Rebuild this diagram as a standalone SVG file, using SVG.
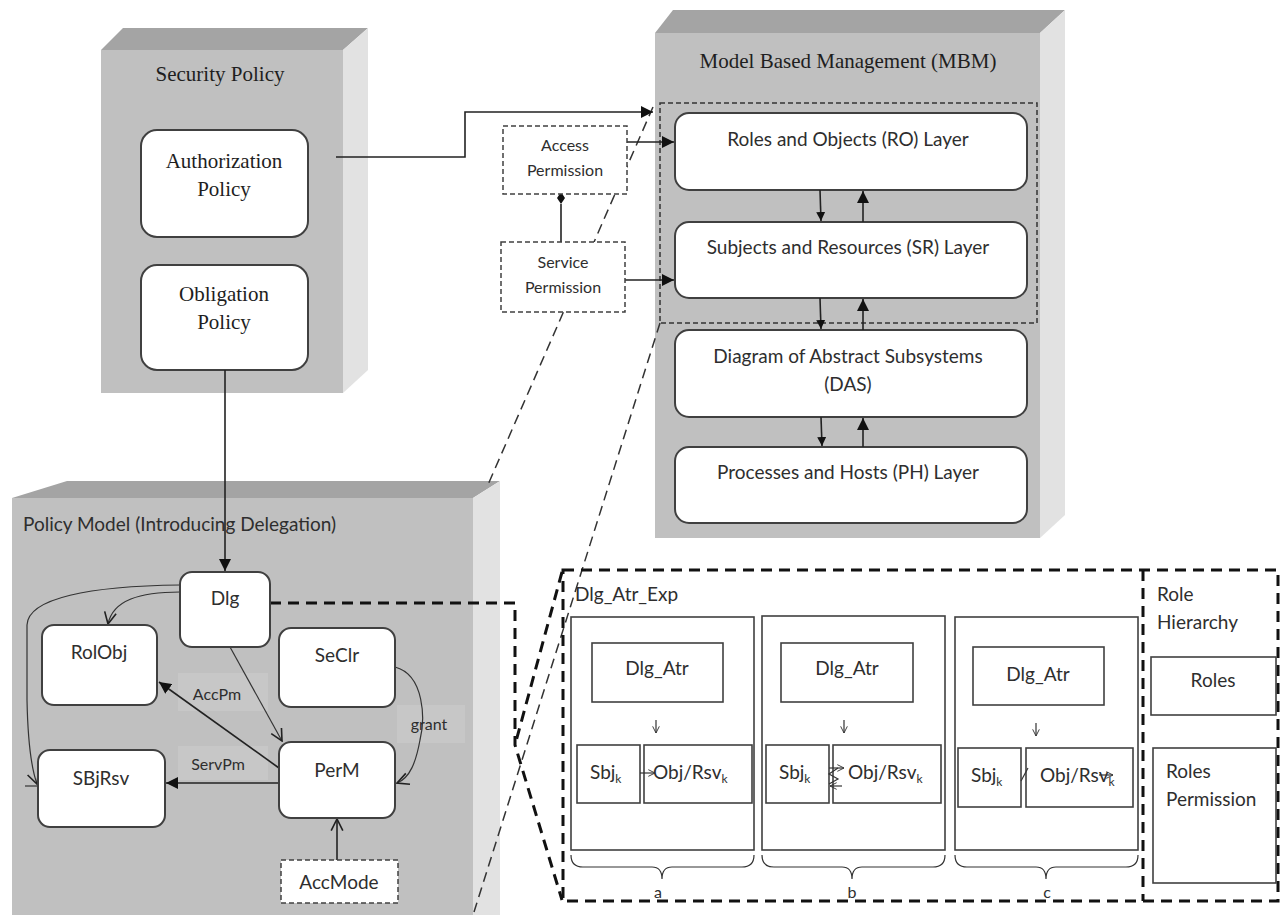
<svg xmlns="http://www.w3.org/2000/svg" width="1282" height="915" viewBox="0 0 1282 915">
  <style>
    .front { fill: #c0c0c0; }
    .top { fill: #a4a4a4; }
    .side { fill: #e2e2e2; }
    .node { fill: #ffffff; stroke: #404040; stroke-width: 2; }
    .dnode { fill: #ffffff; stroke: #404040; stroke-width: 1.5; stroke-dasharray: 5 3; }
    .box { fill: #ffffff; stroke: #404040; stroke-width: 1.6; }
    .line { fill: none; stroke: #222222; stroke-width: 1.6; }
    .thin { fill: none; stroke: #333333; stroke-width: 1.2; }
    .dash-thin { fill: none; stroke: #333333; stroke-width: 1.5; stroke-dasharray: 10 6; }
    .dash-small { fill: none; stroke: #333333; stroke-width: 1.5; stroke-dasharray: 5 3; }
    .dash-thick { fill: none; stroke: #111111; stroke-width: 3; stroke-dasharray: 11 7; }
    .serif { font-family: 'Liberation Serif', serif; font-size: 21px; fill: #1e1e1e; }
    .sans { font-family: Lato, 'Liberation Sans', sans-serif; font-size: 19px; fill: #2e2e2e; }
    .small { font-family: Lato, 'Liberation Sans', sans-serif; font-size: 16px; fill: #2e2e2e; }
    .lbl { fill: #c7c7c7; }
  </style>
  <defs>
    <marker id="arrow" viewBox="0 0 10 10" refX="10" refY="5" markerWidth="9" markerHeight="9" markerUnits="userSpaceOnUse" orient="auto">
      <path d="M0,0 L10,5 L0,10 z" fill="#111111"/>
    </marker>
    <marker id="arrowL" viewBox="0 0 10 10" refX="10" refY="5" markerWidth="12" markerHeight="12" markerUnits="userSpaceOnUse" orient="auto">
      <path d="M0,0 L10,5 L0,10 z" fill="#111111"/>
    </marker>
    <marker id="vee" viewBox="0 0 12 12" refX="11" refY="6" markerWidth="14" markerHeight="14" markerUnits="userSpaceOnUse" orient="auto">
      <path d="M1,1 L11,6 L1,11" fill="none" stroke="#222222" stroke-width="1.4"/>
    </marker>
    <marker id="veeS" viewBox="0 0 12 12" refX="11" refY="6" markerWidth="8" markerHeight="8" markerUnits="userSpaceOnUse" orient="auto">
      <path d="M1,1 L11,6 L1,11" fill="none" stroke="#333333" stroke-width="1.4"/>
    </marker>
    <marker id="diamond" viewBox="0 0 12 8" refX="0" refY="4" markerWidth="12" markerHeight="8" markerUnits="userSpaceOnUse" orient="auto">
      <path d="M0,4 L6,0 L12,4 L6,8 z" fill="#111111"/>
    </marker>
  </defs>

  <!-- Security Policy block -->
  <g id="security-policy">
    <polygon class="top" points="101,50 123,28 368,28 343,50"/>
    <polygon class="side" points="343,50 368,28 368,370 343,393"/>
    <rect class="front" x="101" y="50" width="242" height="343"/>
    <text class="serif" x="220" y="81" text-anchor="middle">Security Policy</text>
  </g>
  <g id="authorization-policy">
    <rect class="node" x="141" y="130" width="167" height="107" rx="16"/>
    <text class="serif" x="224" y="168" text-anchor="middle">Authorization</text>
    <text class="serif" x="224" y="196" text-anchor="middle">Policy</text>
  </g>
  <g id="obligation-policy">
    <rect class="node" x="141" y="265" width="167" height="105" rx="16"/>
    <text class="serif" x="224" y="301" text-anchor="middle">Obligation</text>
    <text class="serif" x="224" y="329" text-anchor="middle">Policy</text>
  </g>

  <!-- Model Based Management block -->
  <g id="mbm">
    <polygon class="top" points="655,33 673,10 1065,10 1040,33"/>
    <polygon class="side" points="1040,33 1065,10 1065,515 1040,538"/>
    <rect class="front" x="655" y="33" width="385" height="505"/>
    <text class="serif" x="848" y="68" text-anchor="middle" font-size="22">Model Based Management (MBM)</text>
    <rect class="dash-small" x="660" y="103" width="377" height="220"/>
  </g>
  <g id="ro-layer">
    <rect class="node" x="675" y="113" width="352" height="77" rx="14"/>
    <text class="sans" x="848" y="146" text-anchor="middle">Roles and Objects (RO) Layer</text>
  </g>
  <g id="sr-layer">
    <rect class="node" x="675" y="222" width="352" height="76" rx="14"/>
    <text class="sans" x="848" y="254" text-anchor="middle">Subjects and Resources (SR) Layer</text>
  </g>
  <g id="das">
    <rect class="node" x="675" y="330" width="352" height="87" rx="14"/>
    <text class="sans" x="848" y="363" text-anchor="middle">Diagram of Abstract Subsystems</text>
    <text class="sans" x="848" y="391" text-anchor="middle">(DAS)</text>
  </g>
  <g id="ph-layer">
    <rect class="node" x="675" y="447" width="352" height="76" rx="14"/>
    <text class="sans" x="848" y="479" text-anchor="middle">Processes and Hosts (PH) Layer</text>
  </g>

  <!-- Policy Model block -->
  <g id="policy-model">
    <polygon class="top" points="12,498 67,481 500,481 473,498"/>
    <polygon class="side" points="473,498 500,481 500,915 473,915"/>
    <rect class="front" x="12" y="498" width="461" height="417"/>
    <text class="sans" x="23" y="531" font-size="20">Policy Model (Introducing Delegation)</text>
    <rect class="lbl" x="178" y="673" width="90" height="38"/>
    <rect class="lbl" x="178" y="746" width="90" height="34"/>
    <rect class="lbl" x="397" y="705" width="68" height="38"/>
  </g>

  <!-- Connectors -->
  <g id="connectors">
    <!-- zoom callout lines -->
    <line class="dash-thin" x1="653" y1="107" x2="487" y2="487"/>
    <line class="dash-thin" x1="660" y1="323" x2="474" y2="912"/>
    <path class="dash-thick" d="M270,603 H515 V745 L562,900"/>
    <line class="dash-thick" x1="562" y1="572" x2="515" y2="745"/>

    <!-- Security Policy to MBM -->
    <path class="line" d="M336,157 H465 V112 H653" marker-end="url(#arrowL)"/>
    <line class="line" x1="225" y1="370" x2="225" y2="571" marker-end="url(#arrowL)"/>

    <!-- permissions to layers -->
    <line class="line" x1="627" y1="142" x2="674" y2="142" marker-end="url(#arrowL)"/>
    <line class="line" x1="625" y1="280" x2="674" y2="280" marker-end="url(#arrowL)"/>
    <line class="line" x1="561" y1="242" x2="561" y2="204" marker-end="url(#diamond)"/>

    <!-- layer to layer -->
    <line class="line" x1="820" y1="190" x2="821" y2="221" marker-end="url(#arrow)"/>
    <line class="line" x1="863" y1="222" x2="863" y2="191" marker-end="url(#arrowL)"/>
    <line class="line" x1="820" y1="298" x2="821" y2="329" marker-end="url(#arrow)"/>
    <line class="line" x1="863" y1="330" x2="863" y2="299" marker-end="url(#arrowL)"/>
    <line class="line" x1="821" y1="417" x2="822" y2="446" marker-end="url(#arrow)"/>
    <line class="line" x1="863" y1="447" x2="863" y2="418" marker-end="url(#arrowL)"/>

    <!-- policy model relations -->
    <path class="thin" d="M180,592 C140,592 113,600 108,624" marker-end="url(#vee)"/>
    <path class="thin" d="M180,585 C90,586 28,598 27,625 L27,700 C28,750 32,770 37,784" marker-end="url(#vee)"/>
    <line class="thin" x1="25" y1="786" x2="38" y2="786"/>
    <line class="thin" x1="230" y1="647" x2="282" y2="741" marker-end="url(#vee)"/>
    <line class="line" x1="279" y1="768" x2="159" y2="682" marker-end="url(#arrowL)"/>
    <line class="line" x1="279" y1="783" x2="166" y2="783" marker-end="url(#arrowL)"/>
    <path class="thin" d="M395,667 C425,675 425,720 420,740 C416,762 410,778 397,783" marker-end="url(#vee)"/>
    <line class="line" x1="337" y1="860" x2="337" y2="819" marker-end="url(#vee)"/>

    <!-- expansion frames -->
    <path class="dash-thick" d="M563,570 H1278 V901 H563 Z"/>
    <line class="dash-thick" x1="1143" y1="570" x2="1143" y2="901"/>
  </g>

  <!-- Permission boxes -->
  <g id="access-permission">
    <rect class="dnode" x="503" y="126" width="124" height="68"/>
    <text class="small" x="565" y="151" text-anchor="middle">Access</text>
    <text class="small" x="565" y="176" text-anchor="middle">Permission</text>
  </g>
  <g id="service-permission">
    <rect class="dnode" x="501" y="242" width="124" height="70"/>
    <text class="small" x="563" y="268" text-anchor="middle">Service</text>
    <text class="small" x="563" y="293" text-anchor="middle">Permission</text>
  </g>

  <!-- Policy model nodes -->
  <g id="dlg">
    <rect class="node" x="180" y="572" width="90" height="75" rx="12"/>
    <text class="sans" x="225" y="605" text-anchor="middle">Dlg</text>
  </g>
  <g id="rolobj">
    <rect class="node" x="42" y="625" width="115" height="80" rx="12"/>
    <text class="sans" x="99" y="659" text-anchor="middle">RolObj</text>
  </g>
  <g id="sbjrsv">
    <rect class="node" x="38" y="750" width="127" height="77" rx="12"/>
    <text class="sans" x="101" y="785" text-anchor="middle">SBjRsv</text>
  </g>
  <g id="seclr">
    <rect class="node" x="279" y="628" width="116" height="79" rx="12"/>
    <text class="sans" x="337" y="662" text-anchor="middle">SeClr</text>
  </g>
  <g id="perm">
    <rect class="node" x="279" y="742" width="116" height="76" rx="12"/>
    <text class="sans" x="337" y="777" text-anchor="middle">PerM</text>
  </g>
  <g id="accmode">
    <rect class="dnode" x="281" y="860" width="117" height="43"/>
    <text class="sans" x="339" y="889" text-anchor="middle">AccMode</text>
  </g>
  <g id="edge-labels">
    <text class="small" x="217" y="700" text-anchor="middle">AccPm</text>
    <text class="small" x="218" y="770" text-anchor="middle">ServPm</text>
    <text class="small" x="429" y="730" text-anchor="middle">grant</text>
  </g>

  <!-- Delegation attribute expansion -->
  <g id="dlg-atr-exp">
    <text class="sans" x="575" y="601">Dlg_Atr_Exp</text>
  </g>
  <g id="panel-a">
    <rect class="box" x="571" y="617" width="183" height="233"/>
    <rect class="box" x="592" y="643" width="131" height="59"/>
    <text class="sans" x="657" y="675" text-anchor="middle">Dlg_Atr</text>
    <line class="thin" x1="656" y1="720" x2="656" y2="733" marker-end="url(#veeS)"/>
    <rect class="box" x="577" y="745" width="63" height="58"/>
    <rect class="box" x="644" y="745" width="108" height="58"/>
    <text class="sans" x="590" y="779">Sbj<tspan font-size="12" dy="4">k</tspan></text>
    <text class="sans" x="653" y="779">Obj/Rsv<tspan font-size="12" dy="4">k</tspan></text>
    <line class="thin" x1="640" y1="773" x2="655" y2="773" marker-end="url(#veeS)"/>
    <path class="thin" d="M571,855 Q571,867 583,867 H652 Q662,867 662,879 Q662,867 672,867 H742 Q754,867 754,855"/>
    <text class="small" x="658" y="898" text-anchor="middle">a</text>
  </g>
  <g id="panel-b">
    <rect class="box" x="762" y="616" width="183" height="234"/>
    <rect class="box" x="781" y="643" width="132" height="59"/>
    <text class="sans" x="847" y="675" text-anchor="middle">Dlg_Atr</text>
    <line class="thin" x1="844" y1="720" x2="844" y2="733" marker-end="url(#veeS)"/>
    <rect class="box" x="766" y="745" width="63" height="58"/>
    <rect class="box" x="833" y="745" width="108" height="58"/>
    <text class="sans" x="779" y="779">Sbj<tspan font-size="12" dy="4">k</tspan></text>
    <text class="sans" x="848" y="779">Obj/Rsv<tspan font-size="12" dy="4">k</tspan></text>
    <path class="thin" d="M829,768 H844" marker-end="url(#veeS)"/>
    <path class="thin" d="M838,768 L829,774 L838,779 L829,784"/>
    <path class="thin" d="M842,786 H830" marker-end="url(#veeS)"/>
    <path class="thin" d="M762,855 Q762,867 774,867 H842 Q852,867 852,879 Q852,867 862,867 H933 Q945,867 945,855"/>
    <text class="small" x="852" y="898" text-anchor="middle">b</text>
  </g>
  <g id="panel-c">
    <rect class="box" x="955" y="617" width="183" height="233"/>
    <rect class="box" x="973" y="647" width="131" height="58"/>
    <text class="sans" x="1038" y="681" text-anchor="middle">Dlg_Atr</text>
    <line class="thin" x1="1036" y1="723" x2="1036" y2="736" marker-end="url(#veeS)"/>
    <rect class="box" x="958" y="748" width="63" height="59"/>
    <rect class="box" x="1026" y="748" width="107" height="59"/>
    <text class="sans" x="971" y="782">Sbj<tspan font-size="12" dy="4">k</tspan></text>
    <text class="sans" x="1040" y="782">Obj/Rsv<tspan font-size="12" dy="4">k</tspan></text>
    <line class="thin" x1="1021" y1="781" x2="1028" y2="768"/>
    <line class="thin" x1="1099" y1="775" x2="1113" y2="775" marker-end="url(#veeS)"/>
    <path class="thin" d="M955,855 Q955,867 967,867 H1036 Q1046,867 1046,879 Q1046,867 1056,867 H1126 Q1138,867 1138,855"/>
    <text class="small" x="1047" y="898" text-anchor="middle">c</text>
  </g>

  <!-- Role hierarchy -->
  <g id="role-hierarchy">
    <text class="sans" x="1157" y="601">Role</text>
    <text class="sans" x="1157" y="629">Hierarchy</text>
  </g>
  <g id="roles">
    <rect class="box" x="1151" y="657" width="125" height="58"/>
    <text class="sans" x="1213" y="687" text-anchor="middle">Roles</text>
  </g>
  <g id="roles-permission">
    <rect class="box" x="1153" y="748" width="123" height="135"/>
    <text class="sans" x="1166" y="778">Roles</text>
    <text class="sans" x="1166" y="806">Permission</text>
  </g>
</svg>
